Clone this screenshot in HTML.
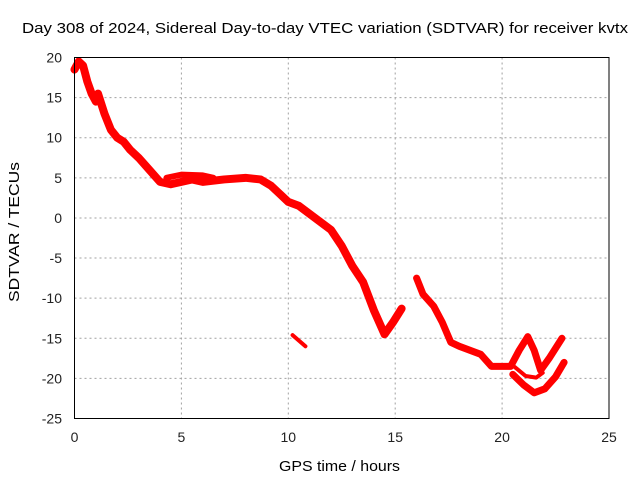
<!DOCTYPE html>
<html><head><meta charset="utf-8"><style>
body{margin:0;background:#fff;}
svg{display:block;font-family:"Liberation Sans",sans-serif;}
</style></head><body>
<svg id="chart" width="640" height="480">
<rect width="640" height="480" fill="#fff"/>
<g id="grid"></g>
<g id="series"></g>
<rect x="74.5" y="57.5" width="534.5" height="361" fill="none" stroke="#000" stroke-width="1"/>
<g id="ticks"></g>
<text x="22" y="33" textLength="606" lengthAdjust="spacingAndGlyphs" font-size="15">Day 308 of 2024, Sidereal Day-to-day VTEC variation (SDTVAR) for receiver kvtx</text>
<text x="279" y="471" textLength="121" lengthAdjust="spacingAndGlyphs" font-size="15">GPS time / hours</text>
<text transform="translate(19,302) rotate(-90)" textLength="140" lengthAdjust="spacingAndGlyphs" font-size="15">SDTVAR / TECUs</text>
</svg>
<script>
const xTicks=[0,5,10,15,20,25];
const yTicks=[20,15,10,5,0,-5,-10,-15,-20,-25];
const mainT=[0,0.2,0.4,0.6,0.8,1.0,1.1,1.4,1.7,2.0,2.3,2.6,3.0,3.5,4.0,4.5,5.0,5.5,6.0,7.0,8.0,8.7,9.2,9.6,10.0,10.5,11.0,11.5,12.0,12.5,13.0,13.5,14.0,14.5,14.9,15.3];
const mainV=[18.5,19.5,19,17,15.5,14.5,15.5,13,11,10,9.5,8.5,7.5,6,4.5,4.2,4.5,4.8,4.5,4.8,5,4.8,4,3,2,1.5,0.5,-0.5,-1.5,-3.5,-6,-8,-11.5,-14.5,-13,-11.3];
const upperT=[4.3,5,6,6.5];
const upperV=[5,5.4,5.3,5];
const shortT=[10.2,10.8];
const shortV=[-14.6,-16];
const lateT=[16.0,16.3,16.8,17.2,17.6,18.0,18.5,19.0,19.5,20.0,20.4,20.8,21.2,21.5,21.8,22.2,22.8];
const lateV=[-7.5,-9.5,-11,-13,-15.5,-16,-16.5,-17,-18.5,-18.5,-18.5,-16.5,-14.8,-16.5,-19,-17.5,-15];
const lowT=[20.5,21.0,21.5,22.0,22.5,22.9];
const lowV=[-19.5,-20.8,-21.8,-21.3,-19.8,-18];
const midT=[20.6,21.1,21.6,21.9];
const midV=[-18.6,-19.7,-19.9,-19.3];
const X=t=>74.5+t*534.5/25;
const Y=v=>57.5+(20-v)*361/45;
const NS="http://www.w3.org/2000/svg";
const grid=document.getElementById('grid'),ticks=document.getElementById('ticks'),ser=document.getElementById('series');
function mk(tag,at,parent){const e=document.createElementNS(NS,tag);for(const k in at)e.setAttribute(k,at[k]);parent.appendChild(e);return e;}
xTicks.forEach(t=>{
 if(t>0&&t<25){const g=mk('line',{x1:X(t),x2:X(t),y1:57.5,y2:418.5,stroke:'#a0a0a0','stroke-dasharray':'2,3'},grid);
 
 }
 const l=mk('text',{x:X(t),y:442,'text-anchor':'middle','font-size':14,fill:'#222'},ticks);l.textContent=t;
 
 
});
yTicks.forEach(v=>{
 if(v<20&&v>-25){const g=mk('line',{x1:74.5,x2:609,y1:Y(v),y2:Y(v),stroke:'#a0a0a0','stroke-dasharray':'2,3'},grid);
 
 }
 const l=mk('text',{x:62,y:Y(v)+5,'text-anchor':'end','font-size':14,fill:'#222'},ticks);l.textContent=v;
 
 
});
function trace(T,V,w,name){
 const p=mk('polyline',{points:T.map((t,i)=>X(t)+','+Y(V[i])).join(' '),fill:'none',stroke:'#ff0000','stroke-width':w,'stroke-linejoin':'round','stroke-linecap':'round'},ser);
 
 
}
trace(mainT,mainV,8,'sdtvar-main-trace');
trace(upperT,upperV,6,'sdtvar-upper-trace');
trace(shortT,shortV,4,'sdtvar-short-segment');
trace(lateT,lateV,7,'sdtvar-late-trace');
trace(lowT,lowV,7,'sdtvar-lower-trace');
trace(midT,midV,4,'sdtvar-mid-trace');
</script>
</body></html>
